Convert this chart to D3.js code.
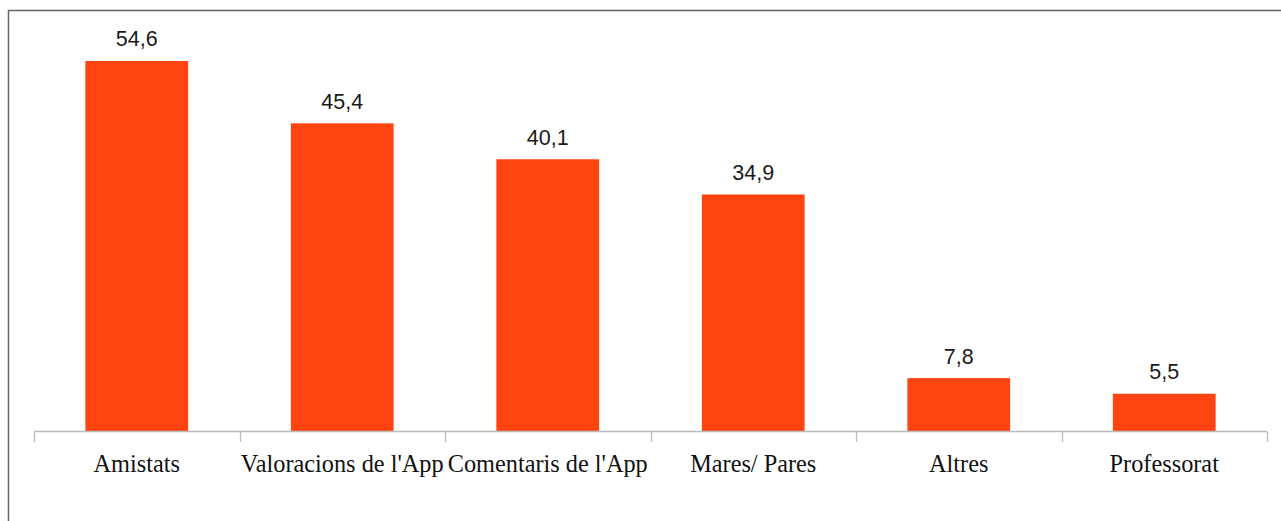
<!DOCTYPE html>
<html>
<head>
<meta charset="utf-8">
<script src="https://cdn.jsdelivr.net/npm/d3@7"></script>
<style>
  body { margin: 0; background: #fff; }
  svg { display: block; }
</style>
</head>
<body>
<script>
// chart data
var categories = ["Amistats", "Valoracions de l'App", "Comentaris de l'App", "Mares/ Pares", "Altres", "Professorat"];
var values = [54.6, 45.4, 40.1, 34.9, 7.8, 5.5];
var valueLabels = ["54,6", "45,4", "40,1", "34,9", "7,8", "5,5"];

var width = 1281, height = 521;

var svg = d3.select("body").append("svg")
    .attr("width", width)
    .attr("height", height);

// outer frame, runs off the right and bottom edges
svg.append("rect")
    .attr("x", 8.5).attr("y", 10.5)
    .attr("width", 1300).attr("height", 600)
    .attr("fill", "none")
    .attr("stroke", "#666")
    .attr("stroke-width", 1.5);

var x = d3.scaleBand()
    .domain(categories)
    .range([34, 1267])
    .paddingInner(0.5)
    .paddingOuter(0.25);

var y = d3.scaleLinear()
    .domain([0, 60])
    .range([431, 24.4]);

var data = categories.map(function(c, i) {
  return {name: c, value: values[i], label: valueLabels[i]};
});

svg.append("g")
  .selectAll("rect")
  .data(data)
  .enter().append("rect")
    .attr("x", d => x(d.name))
    .attr("y", d => y(d.value))
    .attr("width", x.bandwidth())
    .attr("height", d => y(0) - y(d.value))
    .attr("fill", "#ff4411");

// value labels
svg.append("g")
  .selectAll("text")
  .data(data)
  .enter().append("text")
    .attr("x", d => x(d.name) + x.bandwidth() / 2)
    .attr("y", d => y(d.value) - 14.5)
    .attr("text-anchor", "middle")
    .style("font-family", "'Liberation Sans', Arial, sans-serif")
    .style("font-size", "21.5px")
    .style("fill", "#1a1a1a")
    .text(d => d.label);

// x axis: baseline + ticks at category boundaries
var step = x.step();
var bounds = d3.range(categories.length + 1).map(i => 34 + i * step);

var axis = svg.append("g").attr("stroke", "#bbb").attr("stroke-width", 1.3);
axis.append("line")
    .attr("x1", 34).attr("x2", 1267)
    .attr("y1", 431.5).attr("y2", 431.5);
axis.selectAll(".tick")
  .data(bounds)
  .enter().append("line")
    .attr("class", "tick")
    .attr("x1", d => Math.round(d) + 0.5).attr("x2", d => Math.round(d) + 0.5)
    .attr("y1", 431.5).attr("y2", 442);

svg.append("g")
  .selectAll("text")
  .data(categories)
  .enter().append("text")
    .attr("x", d => x(d) + x.bandwidth() / 2)
    .attr("y", 472)
    .attr("text-anchor", "middle")
    .style("font-family", "'Liberation Serif', 'Times New Roman', serif")
    .style("font-size", "24.3px")
    .style("fill", "#111")
    .text(d => d);
</script>
</body>
</html>
